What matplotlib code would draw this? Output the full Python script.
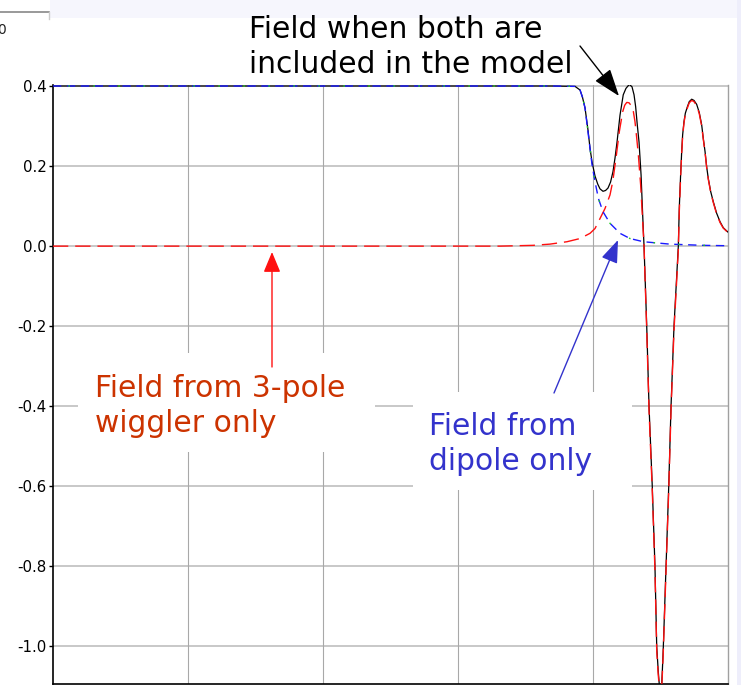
import matplotlib
matplotlib.use("Agg")
import matplotlib.pyplot as plt
from matplotlib.patches import Rectangle, FancyArrowPatch

plt.rcParams['font.family'] = ['DejaVu Sans']

# ---- data (position along the beamline, arbitrary units; field in T) ----
x_both = [0, 370, 386.7, 390.4, 392.2, 394.1, 396.3, 397.8, 399.3, 401.5,
          403.5, 405.2, 407.4, 409.3, 411.1, 413.0, 414.8, 416.3, 417.8, 420.0,
          422.4, 424.4, 426.9, 428.9, 430.4, 431.6, 432.8, 434.1, 435.6, 436.8,
          437.8, 439.8, 441.5, 443.9, 445.9, 447.2, 448.3, 449.1, 450.0, 450.9,
          451.5, 452.1, 454.1, 456.1, 457.8, 460.0, 463.2, 463.9, 464.9, 465.7,
          466.4, 467.4, 468.4, 469.9, 471.3, 473.1, 474.8, 476.8, 478.7, 480.5,
          481.7, 483.0, 484.2, 485.4, 487.2, 489.1, 491.6, 494.1, 496.5, 499.0, 500.0]
y_both = [0.400, 0.400, 0.399, 0.390, 0.372, 0.345, 0.290, 0.244, 0.210, 0.175,
          0.155, 0.143, 0.137, 0.139, 0.145, 0.160, 0.186, 0.220, 0.260, 0.327,
          0.378, 0.394, 0.404, 0.398, 0.378, 0.348, 0.303, 0.260, 0.178, 0.078,
          0.000, -0.200, -0.400, -0.600, -0.800, -1.000, -1.060, -1.095, -1.115, -1.095,
          -1.050, -1.000, -0.800, -0.600, -0.400, -0.200, 0.000, 0.094, 0.178, 0.236,
          0.278, 0.311, 0.332, 0.348, 0.361, 0.367, 0.364, 0.354, 0.334, 0.303,
          0.269, 0.236, 0.198, 0.169, 0.136, 0.111, 0.082, 0.061, 0.046, 0.038, 0.035]

x_wig = [0, 331.1, 355.6, 368.1, 380.7, 390.4, 397.8, 401.5, 405.2, 408.9,
         412.6, 414.6, 417.0, 419.5, 422.0, 423.5, 425.0, 426.7, 428.1, 429.9,
         431.1, 432.3, 433.6, 435.3, 436.8, 437.8, 439.8, 441.5, 443.9, 445.9,
         447.2, 448.3, 449.1, 450.0, 450.9, 451.5, 452.1, 454.1, 456.1, 457.8,
         460.0, 463.2, 463.9, 464.9, 465.7, 466.4, 467.4, 468.4, 469.9, 471.3,
         473.1, 474.8, 476.8, 478.7, 480.5, 481.7, 483.0, 484.2, 485.4, 487.2,
         489.1, 491.6, 494.1, 496.5, 499.0, 500.0]
y_wig = [0.000, 0.000, 0.002, 0.005, 0.011, 0.019, 0.032, 0.044, 0.069, 0.094,
         0.128, 0.161, 0.219, 0.286, 0.336, 0.352, 0.359, 0.358, 0.352, 0.336,
         0.311, 0.273, 0.228, 0.153, 0.061, 0.000, -0.210, -0.410, -0.610, -0.810,
         -1.010, -1.070, -1.100, -1.120, -1.100, -1.060, -1.010, -0.810, -0.610, -0.410,
         -0.210, -0.010, 0.085, 0.172, 0.232, 0.274, 0.308, 0.329, 0.345, 0.358,
         0.364, 0.361, 0.351, 0.331, 0.300, 0.267, 0.234, 0.196, 0.167, 0.134,
         0.109, 0.080, 0.059, 0.045, 0.037, 0.034]

x_dip = [0, 370, 386.7, 390.4, 392.2, 394.1, 397.8, 399.3, 401.5, 404.0,
         407.4, 412.6, 420.0, 427.4, 437.3, 457.0, 481.5, 500.0]
y_dip = [0.400, 0.400, 0.399, 0.390, 0.372, 0.345, 0.244, 0.203, 0.161, 0.119,
         0.086, 0.057, 0.032, 0.019, 0.011, 0.005, 0.002, 0.001]

y_ticks = [0.4, 0.2, 0.0, -0.2, -0.4, -0.6, -0.8, -1.0]
y_tick_labels = ["0.4", "0.2", "0.0", "-0.2", "-0.4", "-0.6", "-0.8", "-1.0"]
x_grid = [100, 200, 300, 400]

label_both = "Field when both are\nincluded in the model"
label_wig = "Field from 3-pole\nwiggler only"
label_dip = "Field from\ndipole only"

# ---- figure ----
W, H = 741, 685
fig = plt.figure(figsize=(W / 100, H / 100), dpi=100)
fig.patch.set_facecolor('white')

def fx(px):
    return px / W

def fy(py):
    return 1 - py / H

# screenshot decorations (lavender strips, cut-off frame)
fig.patches.append(Rectangle((fx(50), fy(18)), 1 - fx(50), 18 / H,
                             transform=fig.transFigure, facecolor='#f6f6fd',
                             edgecolor='none', zorder=0))
fig.patches.append(Rectangle((fx(737), 0), 1 - fx(737), 1,
                             transform=fig.transFigure, facecolor='#eeeefb',
                             edgecolor='none', zorder=0))
fig.lines.append(plt.Line2D([0, fx(49)], [fy(12), fy(12)], transform=fig.transFigure,
                            color='#888888', lw=1.2))
fig.lines.append(plt.Line2D([fx(49), fx(49)], [fy(12), fy(19)], transform=fig.transFigure,
                            color='#cccccc', lw=1.0))
fig.text(fx(1), fy(30), "0", fontsize=10, ha='center', va='center', color='#222222')

ax = fig.add_axes([fx(53), fy(683.5), fx(728) - fx(53), fy(85) - fy(683.5)])
ax.set_xlim(0, 500)
ax.set_ylim(-1.0925, 0.4025)

ax.set_yticks(y_ticks)
ax.set_yticklabels(y_tick_labels)
ax.set_xticks(x_grid)
ax.tick_params(axis='x', length=0, labelbottom=False)
ax.tick_params(axis='y', length=3, width=1, pad=1.5, labelsize=10.8, colors='black')

for yv in y_ticks:
    ax.axhline(yv, color='#c4c4c4', lw=1.3, zorder=1)
for xv in x_grid:
    ax.axvline(xv, color='#a8a8a8', lw=0.8, zorder=1)

for s in ['left', 'bottom']:
    ax.spines[s].set_color('black')
    ax.spines[s].set_linewidth(1.2)
ax.spines['right'].set_color('#a0a0a0')
ax.spines['right'].set_linewidth(1.0)
ax.spines['top'].set_visible(False)

ax.plot(x_both, y_both, color='black', lw=0.9, zorder=3)
ax.plot(x_wig, y_wig, color='#ff1010', lw=1.0, linestyle=(0, (11, 5)), zorder=4)
ax.plot(x_dip, y_dip, color='#1a1aff', lw=1.0, linestyle=(0, (6, 4)), zorder=5)
ax.plot(x_dip, y_dip, color='#22cc22', lw=1.0, linestyle=(7, (1.2, 16.8)),
        zorder=5.5)

# ---- annotation boxes and texts ----
fig.patches.append(Rectangle((fx(78), fy(452)), (375 - 78) / W, (452 - 353) / H,
                             transform=fig.transFigure, facecolor='white',
                             edgecolor='none', zorder=2))
fig.patches.append(Rectangle((fx(413), fy(490)), (632 - 413) / W, (490 - 392) / H,
                             transform=fig.transFigure, facecolor='white',
                             edgecolor='none', zorder=2))

fs = 21.4
ls = 1.24
fig.text(fx(249), fy(73), label_both, fontsize=fs, color='black', ha='left',
         va='baseline', linespacing=ls, zorder=4)
fig.text(fx(95), fy(432), label_wig, fontsize=fs, color='#cc3300', ha='left',
         va='baseline', linespacing=ls, zorder=4)
fig.text(fx(429), fy(470), label_dip, fontsize=fs, color='#3333cc', ha='left',
         va='baseline', linespacing=ls, zorder=4)

def arrow(p0, p1, color, hl, hw, lw=1.0):
    a = FancyArrowPatch((fx(p0[0]), fy(p0[1])), (fx(p1[0]), fy(p1[1])),
                        transform=fig.transFigure,
                        arrowstyle=f"-|>,head_length={hl},head_width={hw}",
                        mutation_scale=1, color=color, lw=lw,
                        shrinkA=0, shrinkB=0, zorder=6)
    fig.patches.append(a)

arrow((580, 46), (619, 96), 'black', 17, 6.0)
arrow((272, 367), (272, 252), '#ff1111', 12.5, 5.2)
arrow((554, 393), (618, 240), '#3333cc', 14, 5.2)

fig.savefig("out.png", dpi=100, facecolor=fig.get_facecolor())
